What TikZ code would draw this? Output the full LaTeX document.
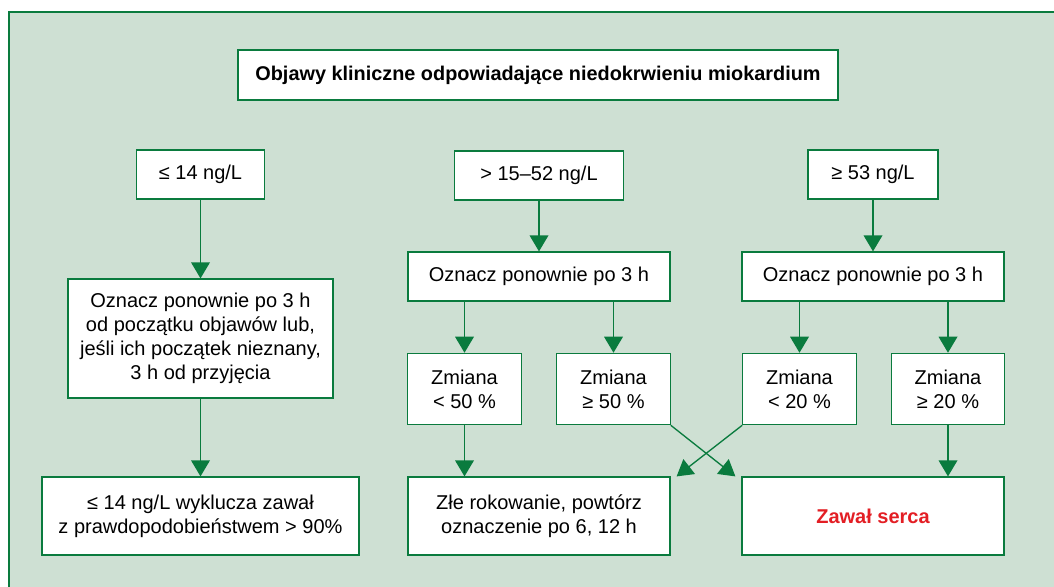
\documentclass[tikz,border=0pt]{standalone}
\usepackage{fontspec}
\setmainfont{Liberation Sans}
\usetikzlibrary{arrows.meta}
\definecolor{frame}{RGB}{10,123,62}
\definecolor{panel}{RGB}{206,224,211}
\definecolor{alert}{RGB}{227,30,36}
\tikzset{
  box/.style={draw=frame,fill=white,line width=0.9pt,align=center,inner sep=0pt,
    font=\fontsize{15}{18}\selectfont},
  arr/.style={color=frame,line width=1pt,-{Triangle[width=14pt,length=12pt]}}
}

\begin{document}
\begin{tikzpicture}[x=0.75pt,y=-0.75pt]
  \useasboundingbox (0,0) rectangle (1054,586);
  \fill[panel] (9,12) rectangle (1060,590);
  \draw[frame,line width=0.9pt] (1060,12) -- (9,12) -- (9,590);

  \node[box,minimum width=450pt,minimum height=37.5pt,font=\fontsize{14.9}{18}\selectfont\bfseries]
    (title) at (538,75) {Objawy kliniczne odpowiadające niedokrwieniu miokardium};

  \node[box,minimum width=96pt,minimum height=36.75pt] (low) at (200.5,174.5) {≤ 14 ng/L};
  \node[box,minimum width=126.75pt,minimum height=36.75pt] (mid) at (539,175.5) {> 15–52 ng/L};
  \node[box,minimum width=97.5pt,minimum height=36.75pt] (high) at (873,174.5) {≥ 53 ng/L};

  \node[box,minimum width=198.75pt,minimum height=89.25pt] (retest) at (200.5,338.5)
    {Oznacz ponownie po 3 h\\od początku objawów lub,\\jeśli ich początek nieznany,\\3 h od przyjęcia};
  \node[box,minimum width=196.5pt,minimum height=36.75pt] (midre) at (539,276.5) {Oznacz ponownie po 3 h};
  \node[box,minimum width=196.5pt,minimum height=36.75pt] (highre) at (873,276.5) {Oznacz ponownie po 3 h};

  \node[box,minimum width=85pt,minimum height=53.5pt] (midlt) at (464.5,389) {Zmiana\\< 50 \%};
  \node[box,minimum width=85pt,minimum height=53.5pt] (midge) at (613.5,389) {Zmiana\\≥ 50 \%};
  \node[box,minimum width=85pt,minimum height=53.5pt] (highlt) at (799.5,389) {Zmiana\\< 20 \%};
  \node[box,minimum width=85pt,minimum height=53.5pt] (highge) at (948,389) {Zmiana\\≥ 20 \%};

  \node[box,minimum width=237.75pt,minimum height=58.5pt] (exclude) at (200.5,516)
    {≤ 14 ng/L wyklucza zawał\\z prawdopodobieństwem > 90\%};
  \node[box,minimum width=196.5pt,minimum height=58.5pt] (prognosis) at (539,516)
    {Złe rokowanie, powtórz\\oznaczenie po 6, 12 h};
  \node[box,minimum width=196.5pt,minimum height=58.5pt,font=\fontsize{15}{18}\selectfont\bfseries,text=alert]
    (infarct) at (873,516) {Zawał serca};

  \path[arr]
    (low) edge (retest)
    (retest) edge (exclude)
    (mid) edge (midre)
    (high) edge (highre)
    (midre.south -| midlt) edge (midlt)
    (midre.south -| midge) edge (midge)
    (highre.south -| highlt) edge (highlt)
    (highre.south -| highge) edge (highge)
    (midlt) edge (midlt |- prognosis.north)
    (highge) edge (highge |- infarct.north)
    (midge.south east) edge ([xshift=-4.5pt]infarct.north west)
    (highlt.south west) edge ([xshift=4.5pt]prognosis.north east);
\end{tikzpicture}
\end{document}
